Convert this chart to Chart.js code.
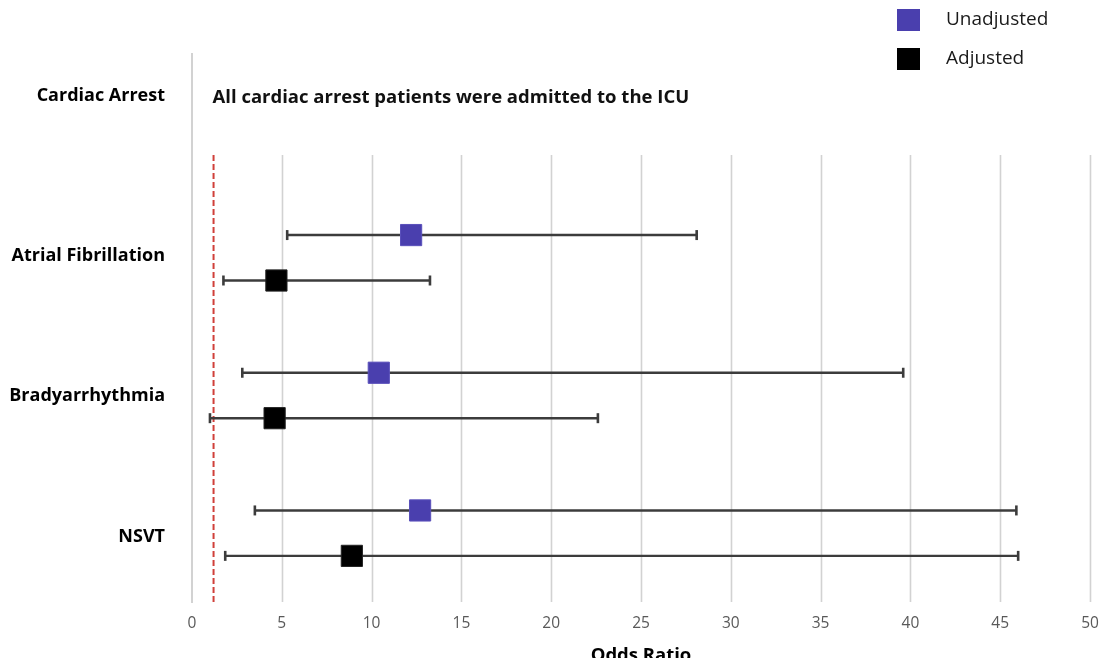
<!DOCTYPE html>
<html>
<head>
<meta charset="utf-8">
<script src="https://cdn.jsdelivr.net/npm/chart.js@4.4.1/dist/chart.umd.min.js"></script>
<style>
  html, body { margin: 0; padding: 0; background: #ffffff; }
  #wrap { width: 1106px; height: 658px; position: relative; }
</style>
</head>
<body>
<div id="wrap"><canvas id="c"></canvas></div>
<script>
// ---- data ----
const categories = ['Cardiac Arrest', 'Atrial Fibrillation', 'Bradyarrhythmia', 'NSVT'];
const unadjustedOR   = [null, 12.2, 10.4, 12.7];
const unadjustedLow  = [null, 5.3, 2.8, 3.5];
const unadjustedHigh = [null, 28.1, 39.6, 45.9];
const adjustedOR     = [null, 4.7, 4.6, 8.9];
const adjustedLow    = [null, 1.75, 1.0, 1.85];
const adjustedHigh   = [null, 13.25, 22.6, 46.0];
const seriesNames = ['Unadjusted', 'Adjusted'];
const referenceOR = 1.2;
const noteText = 'All cardiac arrest patients were admitted to the ICU';
const axisTitle = 'Odds Ratio';

// ---- layout helpers (category row positions on the y scale) ----
const labelRows = [-0.177, 0.985, 2.0, 3.03];
const seriesOffset = 0.165;
const gridTopRow = 0.253;
const noteRow = -0.162;

function points(values, offset) {
  const out = [];
  values.forEach((v, i) => { if (v !== null) out.push({ x: v, y: i + offset }); });
  return out;
}

const FONT = "'Open Sans', 'DejaVu Sans', sans-serif";

const errorBars = {
  id: 'errorBars',
  beforeDatasetsDraw(chart) {
    const { ctx, chartArea } = chart;
    const xs = chart.scales.x, ys = chart.scales.y;
    ctx.save();
    // vertical grid lines (starting below the cardiac arrest row)
    ctx.strokeStyle = '#d2d2d2';
    ctx.lineWidth = 1.6;
    xs.ticks.forEach(t => {
      if (t.value === 0) return;
      const px = Math.round(xs.getPixelForValue(t.value)) + 0.5;
      ctx.beginPath();
      ctx.moveTo(px, ys.getPixelForValue(gridTopRow));
      ctx.lineTo(px, chartArea.bottom);
      ctx.stroke();
    });
    // reference line
    ctx.strokeStyle = '#d0403a';
    ctx.lineWidth = 2;
    ctx.setLineDash([6, 3]);
    const rx = xs.getPixelForValue(referenceOR);
    ctx.beginPath();
    ctx.moveTo(rx, ys.getPixelForValue(gridTopRow));
    ctx.lineTo(rx, chartArea.bottom);
    ctx.stroke();
    ctx.setLineDash([]);
    // confidence intervals
    const sets = [
      [unadjustedLow, unadjustedHigh, -seriesOffset],
      [adjustedLow, adjustedHigh, seriesOffset]
    ];
    ctx.strokeStyle = '#3c3c3c';
    sets.forEach(([lo, hi, off]) => {
      lo.forEach((l, i) => {
        if (l === null) return;
        const y = ys.getPixelForValue(i + off);
        const x1 = xs.getPixelForValue(l), x2 = xs.getPixelForValue(hi[i]);
        ctx.lineWidth = 2.4;
        ctx.beginPath();
        ctx.moveTo(x1, y); ctx.lineTo(x2, y);
        ctx.stroke();
        ctx.lineWidth = 2.6;
        [x1, x2].forEach(x => {
          ctx.beginPath();
          ctx.moveTo(x, y - 5); ctx.lineTo(x, y + 5);
          ctx.stroke();
        });
      });
    });
    ctx.restore();
  },
  afterDraw(chart) {
    const { ctx } = chart;
    const xs = chart.scales.x, ys = chart.scales.y;
    ctx.save();
    // note for the cardiac arrest row
    ctx.font = 'bold 18.5px ' + FONT;
    ctx.fillStyle = '#111111';
    ctx.textAlign = 'left';
    ctx.textBaseline = 'middle';
    ctx.fillText(noteText, xs.getPixelForValue(referenceOR) - 1, ys.getPixelForValue(noteRow));
    // legend, stacked vertically at top right
    chart.data.datasets.forEach((ds, i) => {
      const top = 9 + i * 39;
      ctx.fillStyle = ds.backgroundColor;
      ctx.fillRect(897, top, 23, 22);
      ctx.fillStyle = '#1a1a1a';
      ctx.font = '500 19px ' + FONT;
      ctx.fillText(ds.label, 946, top + 11);
    });
    ctx.restore();
  }
};

new Chart(document.getElementById('c'), {
  type: 'scatter',
  data: {
    datasets: [
      {
        label: seriesNames[0],
        data: points(unadjustedOR, -seriesOffset),
        backgroundColor: '#4a3fae',
        borderColor: '#5a50bb',
        borderWidth: 1,
        pointStyle: 'rect',
        pointRadius: 15,
        pointHoverRadius: 15
      },
      {
        label: seriesNames[1],
        data: points(adjustedOR, seriesOffset),
        backgroundColor: '#000000',
        borderColor: '#222222',
        borderWidth: 1,
        pointStyle: 'rect',
        pointRadius: 15,
        pointHoverRadius: 15
      }
    ]
  },
  options: {
    responsive: true,
    maintainAspectRatio: false,
    animation: false,
    devicePixelRatio: 1,
    layout: { padding: { top: 54, right: 15, left: 0, bottom: 0 } },
    plugins: {
      legend: { display: false },
      tooltip: { enabled: false }
    },
    scales: {
      x: {
        type: 'linear',
        min: 0,
        max: 50,
        grid: { display: false, drawTicks: false },
        border: { display: false },
        ticks: {
          stepSize: 5,
          padding: 12,
          color: '#595959',
          font: { family: FONT, size: 15.5, weight: '500' }
        },
        title: {
          display: true,
          text: axisTitle,
          color: '#000000',
          font: { family: FONT, size: 18.5, weight: 'bold' },
          padding: { top: 0, bottom: -9 }
        },
        afterFit(scale) {
          scale.height = 56;
          scale.paddingLeft = 0;
          scale.paddingRight = 0;
        }
      },
      y: {
        type: 'linear',
        reverse: true,
        min: -0.48,
        max: 3.5,
        grid: { display: false, drawTicks: false },
        border: { display: true, color: '#d2d2d2', width: 2 },
        afterBuildTicks(scale) {
          scale.ticks = labelRows.map(v => ({ value: v }));
        },
        ticks: {
          padding: 27,
          color: '#000000',
          font: { family: FONT, size: 18, weight: 'bold' },
          callback(value, index) { return categories[index]; }
        },
        afterFit(scale) {
          scale.width = 192;
          scale.paddingTop = 0;
          scale.paddingBottom = 0;
        }
      }
    }
  },
  plugins: [errorBars]
});
</script>
</body>
</html>
